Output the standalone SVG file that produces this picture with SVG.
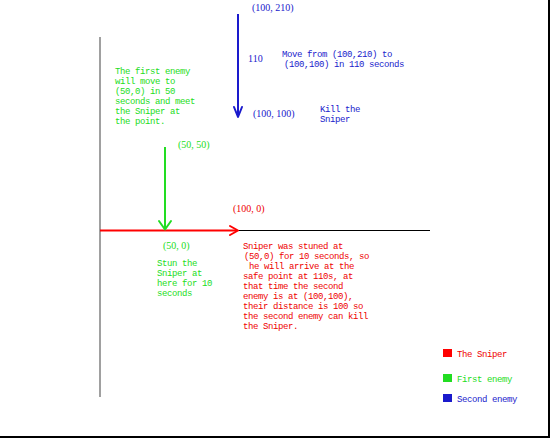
<svg xmlns="http://www.w3.org/2000/svg" width="550" height="438" viewBox="0 0 550 438">
<style>
.m{font-family:"Liberation Mono",monospace;font-size:9px;letter-spacing:-0.4px}
.c{font-family:"Liberation Serif",serif;font-size:10px}
.r{fill:#ee0000}.g{fill:#22dd22}.b{fill:#1a1acc}
.ah{fill:none;stroke-width:2;stroke-linecap:round;stroke-linejoin:round}
</style>
<rect width="550" height="438" fill="#ffffff"/>
<g id="frame">
<line x1="0" y1="437" x2="550" y2="437" stroke="#000" stroke-width="2"/>
<line x1="549" y1="0" x2="549" y2="438" stroke="#000" stroke-width="2"/>
</g>
<g id="axes">
<line x1="100" y1="37" x2="100" y2="397" stroke="#808080" stroke-width="1.5"/>
<line x1="236" y1="230.5" x2="430" y2="230.5" stroke="#000" stroke-width="1"/>
</g>
<g id="connectors">
<g id="sniper-path">
<line x1="100" y1="230.5" x2="237" y2="230.5" stroke="#ff0000" stroke-width="2"/>
<polyline class="ah" stroke="#ff0000" points="230,226 238,230.5 230,235"/>
</g>
<g id="first-enemy-path">
<line x1="165" y1="147" x2="165" y2="229" stroke="#22dd22" stroke-width="2"/>
<polyline class="ah" stroke="#22dd22" points="159,221 165,229.5 171,221"/>
</g>
<g id="second-enemy-path">
<line x1="238" y1="14" x2="238" y2="116" stroke="#1a1acc" stroke-width="2"/>
<polyline class="ah" stroke="#1a1acc" points="234,107 238,117 242,107"/>
</g>
</g>
<g id="second-enemy-labels">
<text class="c b" x="252" y="11">(100, 210)</text>
<text class="c b" x="248" y="62">110</text>
<text class="m b" x="282" y="57">Move from (100,210) to</text>
<text class="m b" x="284" y="67">(100,100) in 110 seconds</text>
<text class="c b" x="253" y="117">(100, 100)</text>
<text class="m b" x="320" y="112">Kill the</text>
<text class="m b" x="320" y="122">Sniper</text>
</g>
<g id="first-enemy-labels">
<text class="m g" x="115" y="74">The first enemy</text>
<text class="m g" x="115" y="84">will move to</text>
<text class="m g" x="115" y="94">(50,0) in 50</text>
<text class="m g" x="115" y="104">seconds and meet</text>
<text class="m g" x="115" y="114">the Sniper at</text>
<text class="m g" x="115" y="124">the point.</text>
<text class="c g" x="178" y="148">(50, 50)</text>
<text class="c g" x="163" y="249">(50, 0)</text>
<text class="m g" x="157" y="266">Stun the</text>
<text class="m g" x="157" y="276">Sniper at</text>
<text class="m g" x="157" y="286">here for 10</text>
<text class="m g" x="157" y="296">seconds</text>
</g>
<g id="sniper-labels">
<text class="c r" x="233" y="212">(100, 0)</text>
<text class="m r" x="243" y="249">Sniper was stuned at</text>
<text class="m r" x="244" y="259">(50,0) for 10 seconds, so</text>
<text class="m r" x="249" y="269">he will arrive at the</text>
<text class="m r" x="243" y="279">safe point at 110s, at</text>
<text class="m r" x="243" y="289">that time the second</text>
<text class="m r" x="243" y="299">enemy is at (100,100),</text>
<text class="m r" x="243" y="309">their distance is 100 so</text>
<text class="m r" x="243" y="319">the second enemy can kill</text>
<text class="m r" x="243" y="329">the Sniper.</text>
</g>
<g id="legend">
<rect x="443" y="349" width="9" height="8" fill="#ff0000"/>
<text class="m r" x="457" y="357">The Sniper</text>
<rect x="443" y="374" width="9" height="8" fill="#22dd22"/>
<text class="m g" x="457" y="382">First enemy</text>
<rect x="443" y="394" width="9" height="8" fill="#1a1acc"/>
<text class="m b" x="457" y="402">Second enemy</text>
</g>
</svg>
